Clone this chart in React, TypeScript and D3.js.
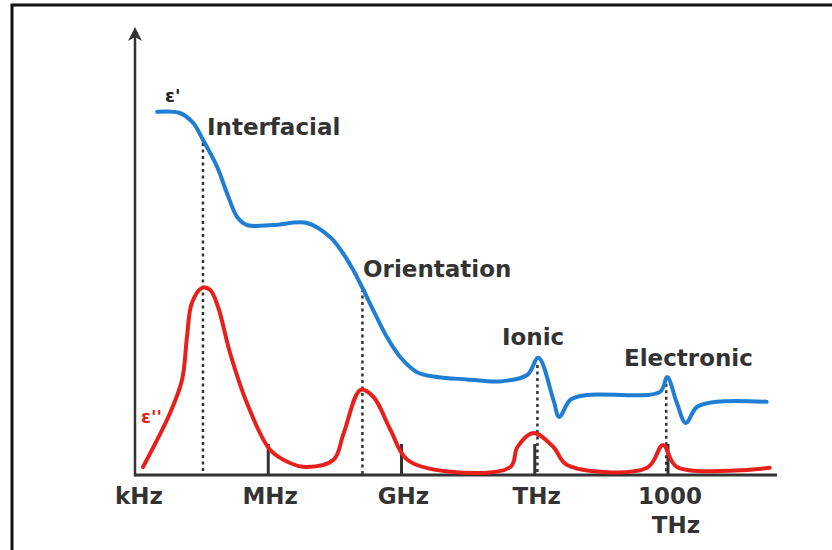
import React, { useEffect, useRef } from 'react';
import * as d3 from 'd3';

// log10(frequency / Hz) of each sample, and the permittivity
const realLogF = [3.5, 4.01, 4.31, 4.53, 4.85, 5.07, 5.3, 5.52, 6.11, 6.87, 7.39, 7.68, 7.91, 8.11, 8.36, 8.67, 8.97, 9.35, 9.8, 10.47, 11.22, 11.83, 12.08, 12.42, 12.55, 12.8, 13.18, 14.82, 14.98, 15.2, 15.4, 15.65, 16.1, 17.22];
const realEps = [9.08, 9.05, 8.8, 8.38, 7.7, 7.05, 6.45, 6.25, 6.25, 6.3, 5.95, 5.55, 5.13, 4.7, 4.13, 3.45, 2.95, 2.57, 2.45, 2.39, 2.34, 2.5, 2.93, 1.88, 1.45, 1.88, 2.0, 2.08, 2.45, 1.8, 1.3, 1.7, 1.83, 1.83];

const lossLogF = [3.18, 3.79, 4.06, 4.17, 4.28, 4.51, 4.69, 4.87, 5.14, 5.52, 6.04, 6.49, 6.87, 7.47, 7.7, 8.08, 8.37, 8.75, 9.13, 10.1, 11.45, 11.61, 11.97, 12.42, 12.73, 14.53, 14.89, 15.2, 17.29];
const lossEps = [0.2, 1.55, 2.38, 3.45, 4.3, 4.68, 4.63, 4.2, 3.05, 1.8, 0.63, 0.3, 0.2, 0.38, 1.05, 2.13, 1.95, 1.13, 0.38, 0.08, 0.2, 0.7, 1.05, 0.7, 0.25, 0.18, 0.75, 0.2, 0.18];

const tickLogF = [3, 6, 9, 12, 15];
const tickLabels = [['kHz'], ['MHz'], ['GHz'], ['THz'], ['1000', 'THz']];

const mechNames = ['Interfacial', 'Orientation', 'Ionic', 'Electronic'];
const mechLogF = [4.53, 8.12, 12.06, 14.96];
const mechTop = [8.3, 4.65, 2.75, 2.28];
const mechBottom = [0, 0, 0, 0];

const App: React.FC = () => {
  const svgRef = useRef<SVGSVGElement>(null);

  useEffect(() => {
    document.body.style.margin = '0';
    if (!svgRef.current) return;
    const svg = d3.select(svgRef.current);
    svg.selectAll('*').remove();

    const x = d3.scaleLinear().domain([3, 15]).range([135, 668]);
    const y = d3.scaleLinear().domain([0, 10]).range([475, 75]);
    const font = "'DejaVu Sans', sans-serif";

    svg.append('rect').attr('width', 832).attr('height', 550).attr('fill', '#fff');

    // frame
    svg.append('path')
      .attr('d', 'M12,550 V5 H832')
      .attr('fill', 'none')
      .attr('stroke', '#111')
      .attr('stroke-width', 3);

    // resonance markers
    mechLogF.forEach((f, i) => {
      svg.append('line')
        .attr('x1', x(f)).attr('x2', x(f))
        .attr('y1', y(mechTop[i])).attr('y2', y(mechBottom[i]))
        .attr('stroke', '#333')
        .attr('stroke-width', 2.5)
        .attr('stroke-dasharray', '3,3.5');
    });

    // axes
    const axisEnd = 777;
    svg.append('line')
      .attr('x1', x(3)).attr('x2', axisEnd)
      .attr('y1', y(0)).attr('y2', y(0))
      .attr('stroke', '#333').attr('stroke-width', 3);
    svg.append('line')
      .attr('x1', x(3)).attr('x2', x(3))
      .attr('y1', y(0) + 1.5).attr('y2', 34)
      .attr('stroke', '#333').attr('stroke-width', 2.5);
    svg.append('path')
      .attr('d', `M${x(3)},27 L${x(3) - 7},41 L${x(3)},37 L${x(3) + 7},41 Z`)
      .attr('fill', '#333');

    tickLogF.forEach((f, i) => {
      if (i > 0) {
        svg.append('line')
          .attr('x1', x(f)).attr('x2', x(f))
          .attr('y1', y(0)).attr('y2', y(0) - 31)
          .attr('stroke', '#333').attr('stroke-width', 3);
      }
      const t = svg.append('text')
        .attr('x', x(f) + (i === 0 ? 4 : 2))
        .attr('y', 504)
        .attr('text-anchor', 'middle')
        .attr('font-family', font)
        .attr('font-weight', 'bold')
        .attr('font-size', 23)
        .attr('fill', '#333');
      tickLabels[i].forEach((s, j) => {
        t.append('tspan')
          .attr('x', x(f) + (i === 0 ? 4 : 2) + (j > 0 ? 6 : 0))
          .attr('dy', j === 0 ? 0 : 29)
          .text(s);
      });
    });

    const line = d3.line<[number, number]>()
      .x(d => x(d[0]))
      .y(d => y(d[1]))
      .curve(d3.curveCatmullRom.alpha(0.5));

    svg.append('path')
      .attr('d', line(realLogF.map((f, i) => [f, realEps[i]] as [number, number])))
      .attr('fill', 'none')
      .attr('stroke', '#1f7ed4')
      .attr('stroke-width', 4)
      .attr('stroke-linecap', 'round');

    svg.append('path')
      .attr('d', line(lossLogF.map((f, i) => [f, lossEps[i]] as [number, number])))
      .attr('fill', 'none')
      .attr('stroke', '#e8201c')
      .attr('stroke-width', 4)
      .attr('stroke-linecap', 'round');

    // mechanism labels
    const labelPos: [number, number][] = [[207, 135], [363, 277], [502, 345], [624, 366]];
    mechNames.forEach((name, i) => {
      svg.append('text')
        .attr('x', labelPos[i][0])
        .attr('y', labelPos[i][1])
        .attr('font-family', font)
        .attr('font-weight', 'bold')
        .attr('font-size', 23)
        .attr('fill', '#333')
        .text(name);
    });

    // series labels
    svg.append('text')
      .attr('x', 165).attr('y', 102)
      .attr('font-family', font).attr('font-weight', 'bold')
      .attr('font-size', 18).attr('fill', '#222')
      .text("ε'");
    svg.append('text')
      .attr('x', 141).attr('y', 423)
      .attr('font-family', font).attr('font-weight', 'bold')
      .attr('font-size', 18).attr('fill', '#e8201c')
      .text("ε''");
  }, []);

  return <svg ref={svgRef} width={832} height={550} style={{ display: 'block' }} />;
};

export default App;
